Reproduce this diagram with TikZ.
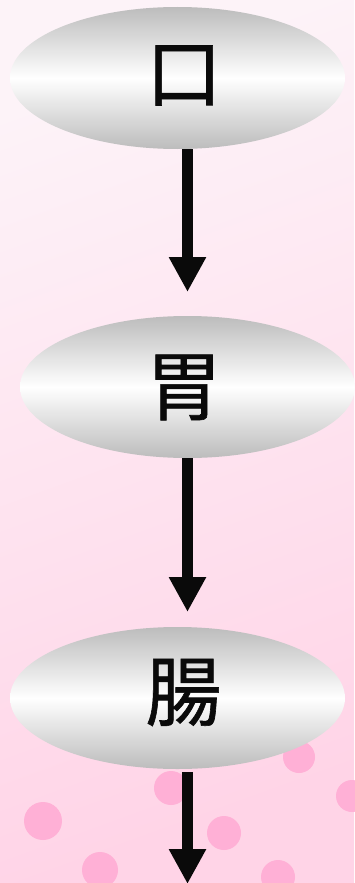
\documentclass[tikz,border=0pt]{standalone}
\usepackage{fontspec}
\newfontfamily\cjkfont[FakeBold=0.8]{Noto Sans CJK JP}
\usetikzlibrary{shapes.geometric,arrows.meta}
\definecolor{bgtop}{RGB}{253,243,248}
\definecolor{bgbot}{RGB}{255,212,231}
\definecolor{dotpink}{RGB}{255,176,214}
\definecolor{ellgray}{RGB}{188,188,188}
\definecolor{arrblack}{RGB}{10,10,10}
\tikzset{
  organ/.style={ellipse, minimum width=335pt, minimum height=142pt, inner sep=0pt,
    top color=ellgray, bottom color=ellgray, middle color=white},
  organtext/.style={inner sep=0pt, font=\cjkfont\fontsize{76}{76}\selectfont, text=arrblack},
  flow/.style={draw=arrblack, line width=11pt, -{Triangle[width=35pt,length=35pt]}, arrblack},
  dot/.style={fill=dotpink}
}
\begin{document}
\begin{tikzpicture}[x=1pt,y=-1pt]
\useasboundingbox (0,0) rectangle (354,883);
\shade[top color=bgtop, bottom color=bgbot, shading angle=20] (0,0) rectangle (354,883);
% dots
\fill[dot] (43,821) circle (19);
\fill[dot] (100,870) circle (18);
\fill[dot] (171,788) circle (17);
\fill[dot] (224,833) circle (17);
\fill[dot] (299,757) circle (16);
\fill[dot] (352,796) circle (16);
\fill[dot] (278,877) circle (17);
% ellipses
\node[organ] (e1) at (177.5,78) {};
\node[organ] (e2) at (187.5,387) {};
\node[organ] (e3) at (177.5,698) {};
\node[organtext] (l1) at (184,75.5) {口};
\node[organtext] (l2) at (184,387.5) {胃};
\node[organtext] (l3) at (183.5,692.5) {腸};
% arrow tips
\coordinate (t1) at (187.5,292);
\coordinate (t2) at (187.5,612);
\coordinate (t3) at (187.5,884);
\draw[flow] (e1.south -| t1) -- (t1);
\draw[flow] (e2.south -| t2) -- (t2);
\draw[flow] (e3.south -| t3) ++(0,3) -- (t3);
\end{tikzpicture}
\end{document}
